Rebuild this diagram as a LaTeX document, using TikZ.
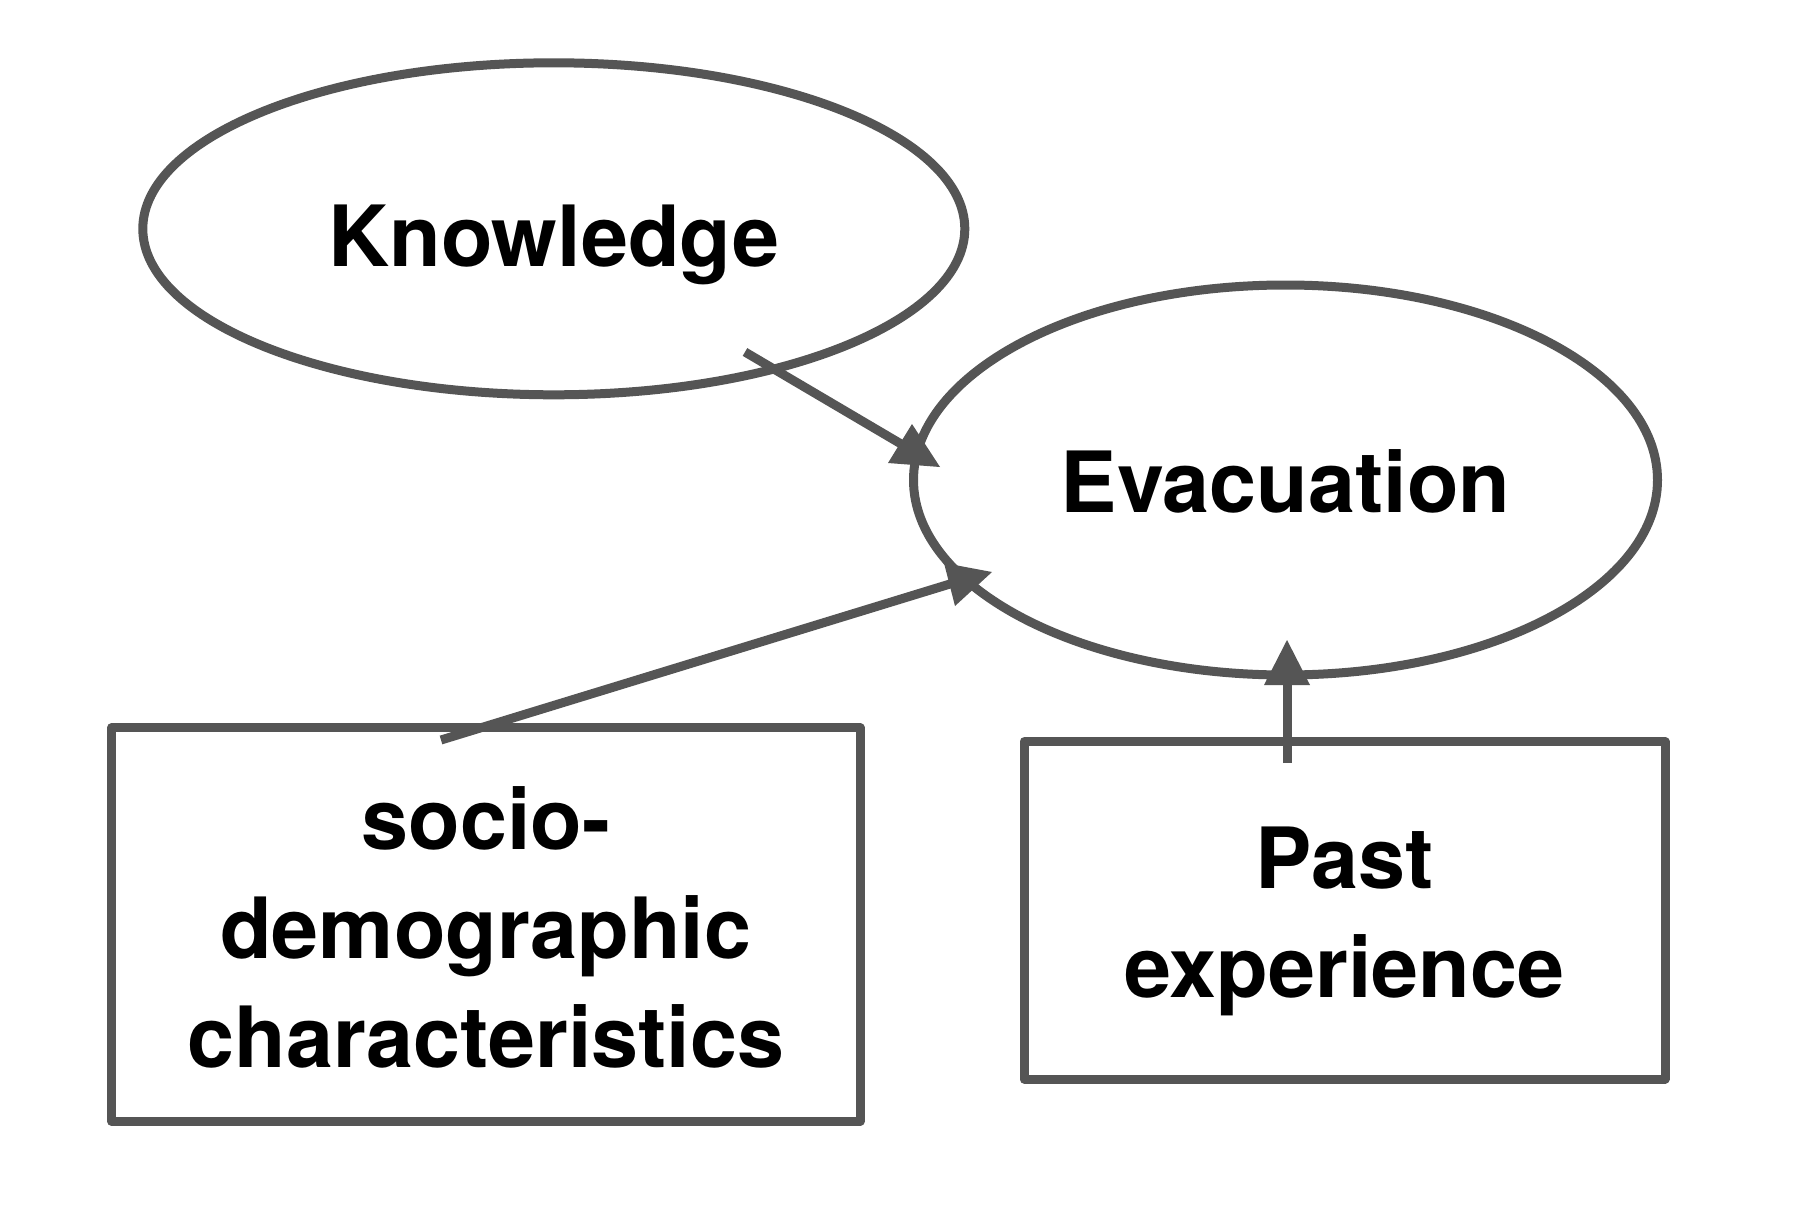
\documentclass[tikz,border=0pt]{standalone}
\usepackage{fontspec}
\setmainfont{TeX Gyre Heros}
\usetikzlibrary{shapes.geometric}
\definecolor{edge}{RGB}{85,85,85}
\begin{document}
\begin{tikzpicture}[x=1pt,y=-1pt,
  shapeline/.style={draw=edge,line width=9pt,line join=round},
  oval/.style={shapeline,ellipse,inner sep=0pt},
  box/.style={shapeline,rectangle,inner sep=0pt,align=center},
  labeltext/.style={font=\fontsize{84.5}{109}\selectfont\bfseries},
  conn/.style={draw=edge,line width=9pt},
  tipfill/.style={fill=edge}]
\fill[white] (0,0) rectangle (1818,1226);
\useasboundingbox (0,0) rectangle (1818,1226);
% nodes
\node[oval,labeltext,minimum width=822pt,minimum height=332pt,text height=75pt,text depth=0pt] (know) at (553.8,228.8) {Knowledge};
\node[oval,labeltext,minimum width=744pt,minimum height=390pt,text height=64pt,text depth=0pt] (evac) at (1285.5,480) {Evacuation};
\node[box,labeltext,minimum width=748.3pt,minimum height=393.6pt] (socio) at (485.85,924.5) {\raisebox{0pt}[68pt][0pt]{socio-}\\demographic\\characteristics};
\node[box,labeltext,minimum width=641pt,minimum height=337.3pt] (past) at (1344.5,910.35) {\raisebox{0pt}[66pt][0pt]{Past}\\\raisebox{0pt}[\height][0pt]{experience}};
% connector ends
\coordinate (k1) at (745,352);
\coordinate (e1) at (913,451);
\coordinate (s1) at (441,740);
\coordinate (e2) at (963,580);
\coordinate (p1) at (1287,763);
\coordinate (e3) at (1287,684);
% connectors
\draw[conn] (k1) -- (e1);
\fill[tipfill] (912,424) -- (888,463) -- (940,467) -- cycle;
\draw[conn] (s1) -- (e2);
\fill[tipfill] (944,563) -- (992,572) -- (955,606) -- cycle;
\draw[conn] (p1) -- (e3);
\fill[tipfill] (1287,640) -- (1264,685) -- (1310,685) -- cycle;
\end{tikzpicture}
\end{document}
